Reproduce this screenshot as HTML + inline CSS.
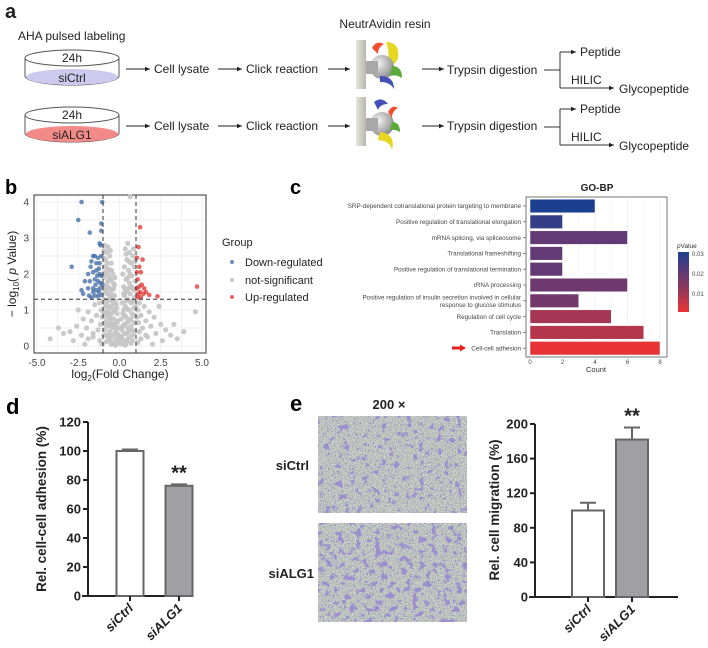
<!DOCTYPE html>
<html><head><meta charset="utf-8"><style>
html,body{margin:0;padding:0;background:#fff;}
svg{display:block;font-family:"Liberation Sans",Arial,sans-serif;}
</style></head><body>
<svg id="fig" width="708" height="648" viewBox="0 0 708 648" xmlns="http://www.w3.org/2000/svg">
<defs>
<marker id="arr" markerWidth="6" markerHeight="6" refX="5" refY="3" orient="auto"><path d="M0,0.8 L5,3 L0,5.2 z" fill="#222"/></marker>
<radialGradient id="sph" cx="0.35" cy="0.35" r="0.7"><stop offset="0" stop-color="#f4f4f4"/><stop offset="1" stop-color="#8a8a8a"/></radialGradient>
<linearGradient id="bar" x1="0" x2="1"><stop offset="0" stop-color="#e6e6dc"/><stop offset="1" stop-color="#b8b8ae"/></linearGradient>
<linearGradient id="cbar" x1="0" y1="0" x2="0" y2="1"><stop offset="0" stop-color="#1d3f8f"/><stop offset="0.3" stop-color="#5a3a78"/><stop offset="0.65" stop-color="#963858"/><stop offset="1" stop-color="#ee3333"/></linearGradient>
<filter id="blot1" x="0" y="0" width="100%" height="100%"><feTurbulence type="fractalNoise" baseFrequency="0.16" numOctaves="3" seed="4"/><feColorMatrix type="matrix" values="0 0 0 0 0.30  0 0 0 0 0.24  0 0 0 0 0.66  10 0 0 0 -6.0"/></filter>
<filter id="blot2" x="0" y="0" width="100%" height="100%"><feTurbulence type="fractalNoise" baseFrequency="0.16" numOctaves="3" seed="11"/><feColorMatrix type="matrix" values="0 0 0 0 0.30  0 0 0 0 0.24  0 0 0 0 0.66  10 0 0 0 -5.7"/></filter>
<filter id="specks" x="0" y="0" width="100%" height="100%"><feTurbulence type="fractalNoise" baseFrequency="0.6" numOctaves="1" seed="7"/><feColorMatrix type="matrix" values="0 0 0 0 0.28  0 0 0 0 0.22  0 0 0 0 0.6  12 0 0 0 -7.6"/></filter>
<filter id="grain" x="0" y="0" width="100%" height="100%"><feTurbulence type="fractalNoise" baseFrequency="0.9" numOctaves="1" seed="2"/><feColorMatrix type="matrix" values="0 0 0 0 0.40  0 0 0 0 0.44  0 0 0 0 0.42  0 0 0 -4 2.5"/></filter>
</defs>

<!-- ================= PANEL A ================= -->
<g font-size="12" fill="#222">
<text x="5" y="18" font-size="20" font-weight="bold">a</text>
<text x="18" y="40">AHA pulsed labeling</text>
<text x="385" y="28" text-anchor="middle">NeutrAvidin resin</text>
<g>
<path d="M25,58 L25,76 A47,9 0 0 0 119,76 L119,58" fill="#fff" stroke="#555"/>
<ellipse cx="72" cy="77" rx="46" ry="8" fill="#cccbee"/>
<ellipse cx="72" cy="58" rx="47" ry="8" fill="#fff" stroke="#555"/>
<text x="72" y="62" text-anchor="middle">24h</text>
<text x="72" y="82" text-anchor="middle">siCtrl</text>
</g>
<g>
<path d="M25,115 L25,133 A47,9 0 0 0 119,133 L119,115" fill="#fff" stroke="#555"/>
<ellipse cx="72" cy="134" rx="46" ry="8" fill="#f28a88"/>
<ellipse cx="72" cy="115" rx="47" ry="8" fill="#fff" stroke="#555"/>
<text x="72" y="119" text-anchor="middle">24h</text>
<text x="72" y="139" text-anchor="middle">siALG1</text>
</g>
<g stroke="#222" stroke-width="1" marker-end="url(#arr)">
<line x1="126" y1="69" x2="150" y2="69"/><line x1="218" y1="69" x2="242" y2="69"/><line x1="328" y1="69" x2="350" y2="69"/><line x1="422" y1="69" x2="444" y2="69"/>
<line x1="126" y1="126" x2="150" y2="126"/><line x1="218" y1="126" x2="242" y2="126"/><line x1="328" y1="126" x2="350" y2="126"/><line x1="422" y1="126" x2="444" y2="126"/>
</g>
<text x="154" y="73">Cell lysate</text>
<text x="246" y="73">Click reaction</text>
<text x="447" y="74">Trypsin digestion</text>
<text x="154" y="130">Cell lysate</text>
<text x="246" y="130">Click reaction</text>
<text x="447" y="130">Trypsin digestion</text>
<g>
<rect x="356" y="40" width="10" height="49" fill="url(#bar)"/>
<path d="M372,48 q4,-8 12,-4 q-6,3 -6,10 z" fill="#f05030"/>
<path d="M386,42 q14,0 12,16 q-4,10 -14,8 q8,-8 2,-24 z" fill="#e6d820"/>
<circle cx="382" cy="67" r="12" fill="url(#sph)"/>
<rect x="366" y="61" width="12" height="13" fill="#a8a8a8"/>
<path d="M392,66 q10,0 10,12 q-6,-4 -12,-2 z" fill="#5caa3a"/>
<path d="M380,76 q14,0 14,13 q-4,-7 -14,-7 z" fill="#4450b8"/>
</g>
<g>
<rect x="356" y="97" width="10" height="49" fill="url(#bar)"/>
<path d="M374,102 q8,-6 14,2 q-8,0 -10,6 z" fill="#4450b8"/>
<path d="M388,112 q4,-8 10,-4 q-6,3 -6,10 z" fill="#f05030"/>
<circle cx="382" cy="124" r="12" fill="url(#sph)"/>
<rect x="366" y="118" width="12" height="13" fill="#a8a8a8"/>
<path d="M392,122 q8,0 8,10 q-5,-3 -10,-2 z" fill="#5caa3a"/>
<path d="M380,132 q16,2 12,18 q-2,-9 -14,-10 z" fill="#e6d820"/>
</g>
<g stroke="#333" fill="none">
<path d="M544,70 L560,70"/><path d="M560,52 L560,88"/><path d="M560,52 L576,52" marker-end="url(#arr)"/><path d="M560,88 L614,88" marker-end="url(#arr)"/>
<path d="M544,127 L560,127"/><path d="M560,109 L560,145"/><path d="M560,109 L576,109" marker-end="url(#arr)"/><path d="M560,145 L614,145" marker-end="url(#arr)"/>
</g>
<text x="580" y="56">Peptide</text>
<text x="571" y="84">HILIC</text>
<text x="619" y="93">Glycopeptide</text>
<text x="580" y="113">Peptide</text>
<text x="571" y="141">HILIC</text>
<text x="619" y="150">Glycopeptide</text>
</g>

<!-- ================= PANEL B ================= -->
<g id="pb">
<text x="5" y="194" font-size="20" font-weight="bold">b</text>
<rect x="34" y="195" width="172" height="158" fill="#fff" stroke="#333"/>
<g id="pbGrid"></g><g id="pbPts"></g><g id="pbLines"></g><g id="pbAxes" font-size="10" fill="#444"></g>
<text x="120" y="378" text-anchor="middle" font-size="12" fill="#222">log<tspan font-size="8" dy="3">2</tspan><tspan dy="-3">(Fold Change)</tspan></text>
<text transform="translate(16,274) rotate(-90)" text-anchor="middle" font-size="12" fill="#222">− log<tspan font-size="8" dy="3">10</tspan><tspan dy="-3">( </tspan><tspan font-style="italic">p</tspan> Value)</text>
<g font-size="11" fill="#222">
<text x="222" y="246">Group</text>
<circle cx="232" cy="262" r="2" fill="#4a6fa5" opacity="0.8"/><text x="245" y="266">Down-regulated</text>
<circle cx="232" cy="280" r="2" fill="#c8c8c8"/><text x="245" y="284">not-significant</text>
<circle cx="232" cy="297" r="2" fill="#e03a3a" opacity="0.8"/><text x="245" y="301">Up-regulated</text>
</g>
</g>

<!-- ================= PANEL C ================= -->
<g id="pc">
<text x="290" y="194" font-size="20" font-weight="bold">c</text>
<text x="597" y="191" text-anchor="middle" font-size="10" font-weight="bold" fill="#222">GO-BP</text>
<rect x="526" y="197" width="141" height="160" fill="#fff" stroke="#555" stroke-width="0.8"/>
<g id="pcGrid"></g><g id="pcBars"></g><g id="pcLabels" font-size="6.3" fill="#444"></g><g id="pcAxis" font-size="6" fill="#444"></g>
<text x="596" y="372" text-anchor="middle" font-size="7.5" fill="#333">Count</text>
<path d="M452,348 L461,348" stroke="#e52020" stroke-width="3"/><path d="M460,344.5 L466,348 L460,351.5 z" fill="#e52020"/>
<g>
<text x="677" y="248" font-size="6.5" fill="#333"><tspan font-style="italic">p</tspan>Value</text>
<rect x="678" y="252" width="11" height="60" fill="url(#cbar)"/>
<text x="692" y="256" font-size="6" fill="#444">0.03</text>
<text x="692" y="276" font-size="6" fill="#444">0.02</text>
<text x="692" y="296" font-size="6" fill="#444">0.01</text>
</g>
</g>

<!-- ================= PANEL D ================= -->
<g id="pd">
<text x="6" y="414" font-size="22" font-weight="bold">d</text>
<text transform="translate(46,509) rotate(-90)" text-anchor="middle" font-size="13.5" font-weight="bold" fill="#222">Rel. cell-cell adhesion (%)</text>
<g id="pdChart"></g>
</g>

<!-- ================= PANEL E ================= -->
<g id="pe">
<text x="290" y="411" font-size="22" font-weight="bold">e</text>
<text x="389" y="409" text-anchor="middle" font-size="13" font-weight="bold" fill="#222">200 ×</text>
<g>
<rect x="318" y="416" width="149" height="97" fill="#d3d7d0"/>
<rect x="318" y="416" width="149" height="97" filter="url(#grain)"/>
<rect x="318" y="416" width="149" height="97" filter="url(#blot1)" opacity="0.85"/>
<rect x="318" y="416" width="149" height="97" filter="url(#specks)"/>
</g>
<g>
<rect x="318" y="523" width="149" height="99" fill="#d3d7d0"/>
<rect x="318" y="523" width="149" height="99" filter="url(#grain)"/>
<rect x="318" y="523" width="149" height="99" filter="url(#blot2)" opacity="0.85"/>
<rect x="318" y="523" width="149" height="99" filter="url(#specks)"/>
</g>
<text x="309" y="470" text-anchor="end" font-size="13" font-weight="bold" fill="#222">siCtrl</text>
<text x="314" y="578" text-anchor="end" font-size="13" font-weight="bold" fill="#222">siALG1</text>
<text transform="translate(499,510) rotate(-90)" text-anchor="middle" font-size="13.5" font-weight="bold" fill="#222">Rel. cell migration (%)</text>
<g id="peChart"></g>
</g>
</svg>

<script>
// ---------- Volcano data ----------
const downPts = [[-2.3,4.0],[-1.05,4.0],[-2.5,3.5],[-1.1,3.4],[-1.1,3.2],[-1.8,3.15],[-1.2,2.85],[-1.15,2.8],[-1.6,2.5],[-1.5,2.5],[-1.3,2.45],[-1.1,2.5],[-1.4,2.3],[-1.2,2.3],[-1.7,2.35],[-2.9,2.2],[-1.9,2.0],[-1.6,2.05],[-1.4,2.1],[-1.2,2.0],[-1.1,1.95],[-2.1,1.8],[-1.8,1.8],[-1.5,1.85],[-1.3,1.8],[-1.15,1.75],[-2.3,1.55],[-1.9,1.6],[-1.6,1.6],[-1.4,1.55],[-1.2,1.6],[-2.2,1.45],[-1.85,1.4],[-1.7,1.35],[-1.5,1.4],[-1.3,1.38],[-1.1,1.42],[-1.6,1.5],[-1.25,1.5],[-1.05,1.7],[-1.45,1.7],[-1.35,1.95],[-1.75,2.2],[-1.25,2.15]];
const upPts = [[1.25,3.3],[1.15,2.75],[1.05,2.45],[1.4,2.4],[1.2,2.2],[1.3,2.05],[1.05,2.05],[1.1,1.85],[1.35,1.7],[1.2,1.65],[1.5,1.6],[1.05,1.6],[1.25,1.5],[1.6,1.5],[1.15,1.45],[1.45,1.45],[1.8,1.42],[2.3,1.38],[1.1,1.35],[1.3,1.35],[4.7,1.65]];
const nsPts = [[-0.9,2.8],[-0.7,2.75],[-0.8,2.6],[-0.6,2.5],[-0.95,2.45],[-0.5,2.3],[-0.75,2.3],[-0.9,2.2],[-0.6,2.1],[-0.4,2.0],[-0.8,2.0],[-0.95,1.9],[-0.5,1.85],[-0.7,1.8],[-0.3,1.7],[-0.85,1.7],[-0.6,1.6],[-0.45,1.55],[-0.9,1.5],[-0.75,1.45],[-0.3,1.4],[-0.55,1.35],[-0.95,1.3],[-0.7,1.25],[-0.4,1.2],[-0.2,1.15],[-0.85,1.1],[-0.6,1.05],[-0.3,1.0],[-0.75,0.95],[-0.5,0.9],[-0.15,0.9],[-0.9,0.85],[-0.65,0.8],[-0.35,0.75],[-0.1,0.7],[-0.8,0.7],[-0.55,0.65],[-0.25,0.6],[-0.7,0.55],[-0.45,0.5],[-0.15,0.5],[-0.9,0.45],[-0.6,0.4],[-0.3,0.35],[-0.05,0.3],[-0.75,0.3],[-0.45,0.25],[-0.2,0.2],[-0.6,0.15],[-0.35,0.1],[-0.1,0.08],[-0.8,0.12],[-0.5,0.05],[-0.25,0.02],[-0.65,1.95],[-0.85,2.4],[-0.55,2.65],[-0.4,1.75],[-0.65,1.3],[-0.25,1.25],[-0.5,1.1],[-0.8,1.55],[-0.2,0.4],[-0.05,0.15],
[-0.95,2.65],[-0.9,2.05],[-0.98,1.6],[-0.92,1.2],[-0.97,0.95],[-0.88,0.6],[-0.95,0.3],[-0.7,2.15],[-0.62,1.85],[-0.78,1.15],[-0.68,0.9],[-0.52,0.78],[-0.42,1.4],[-0.35,1.6],[-0.48,2.1],[-0.28,1.9],[-0.38,0.95],[-0.18,1.05],[-0.12,0.3],[-0.3,0.5],[-0.55,0.3],[-0.7,0.2],[-0.85,0.3],[-0.4,0.6],[-0.15,0.65],[-0.6,0.6],[-0.82,0.95],[-0.72,1.65],[-0.58,1.45],[-0.45,1.3],
[0.5,2.85],[0.35,2.7],[0.6,2.6],[0.8,2.5],[0.45,2.4],[0.7,2.3],[0.3,2.2],[0.9,2.2],[0.55,2.1],[0.2,2.0],[0.75,1.95],[0.4,1.85],[0.95,1.8],[0.6,1.75],[0.25,1.65],[0.8,1.6],[0.45,1.5],[0.65,1.45],[0.3,1.4],[0.9,1.35],[0.5,1.3],[0.15,1.2],[0.7,1.2],[0.35,1.1],[0.85,1.05],[0.55,1.0],[0.2,0.9],[0.75,0.9],[0.4,0.8],[0.1,0.75],[0.6,0.7],[0.9,0.65],[0.3,0.6],[0.5,0.5],[0.15,0.45],[0.75,0.45],[0.4,0.35],[0.05,0.25],[0.6,0.25],[0.25,0.15],[0.45,0.1],[0.1,0.05],[0.7,0.08],[0.35,0.02],[0.65,2.0],[0.85,2.7],[0.4,2.55],[0.25,1.0],[0.7,0.55],[0.55,1.6],[0.65,4.15],
[0.95,2.35],[0.92,1.55],[0.97,1.1],[0.88,0.85],[0.95,0.4],[0.8,0.3],[0.62,1.25],[0.72,1.65],[0.5,1.9],[0.58,2.35],[0.38,1.25],[0.45,0.65],[0.32,0.85],[0.2,0.55],[0.15,0.25],[0.28,0.35],[0.55,0.4],[0.68,0.75],[0.82,1.25],[0.42,1.05],[0.25,1.45],[0.35,1.55],[0.5,0.2],[0.8,0.15],[0.05,0.5],
[1.2,1.2],[1.5,1.1],[1.1,1.0],[1.8,0.95],[1.3,0.85],[2.1,0.8],[1.6,0.7],[1.15,0.65],[2.5,0.6],[1.9,0.55],[1.4,0.5],[2.8,0.45],[1.2,0.4],[2.2,0.35],[3.1,0.3],[1.7,0.25],[1.3,0.2],[2.6,0.15],[3.5,0.2],[1.1,0.1],[2.0,0.05],[4.6,0.95],[3.9,0.4],[3.3,0.6],[2.4,1.1],[1.05,0.8],[1.6,0.3],
[-1.2,1.2],[-1.5,1.15],[-1.1,1.0],[-1.9,0.95],[-1.4,0.85],[-2.2,0.75],[-1.7,0.7],[-1.15,0.6],[-2.6,0.55],[-2.0,0.5],[-1.3,0.45],[-3.0,0.4],[-1.6,0.35],[-2.3,0.3],[-3.4,0.35],[-1.9,0.2],[-1.2,0.15],[-2.8,0.15],[-4.2,0.2],[-1.05,0.05],[-2.1,0.05],[-3.7,0.5],[-2.5,1.0],[-1.05,0.8],[-1.6,0.25]];
const volXTicks = [-5.0,-2.5,0.0,2.5,5.0];
const volYTicks = [0,1,2,3,4];
const fcCut = 1, pCut = 1.3;

// ---------- GO data ----------
const goTerms = ["SRP-dependent cotranslational protein targeting to membrane","Positive regulation of translational elongation","mRNA splicing, via spliceosome","Translational frameshifting","Positive regulation of translational termination","rRNA processing","Positive regulation of insulin secretion involved in cellular|response to glucose stimulus","Regulation of cell cycle","Translation","Cell-cell adhesion"];
const goCounts = [4,2,6,2,2,6,3,5,7,8];
const goPvals = [0.030,0.027,0.021,0.021,0.021,0.019,0.018,0.010,0.008,0.001];
const goXTicks = [0,2,4,6,8];

// ---------- Bar data ----------
const groups = ["siCtrl","siALG1"];
const adhesionVals = [100,76];
const adhesionErr = [1,1];
const adhesionTicks = [0,20,40,60,80,100,120];
const migrationVals = [100,182];
const migrationErr = [9,14];
const migrationTicks = [0,40,80,120,160,200];

const NS="http://www.w3.org/2000/svg";
function el(tag,parent){const e=document.createElementNS(NS,tag);parent.appendChild(e);return e;}
function set(e,o){for(const k in o)e.setAttribute(k,o[k]);return e;}

const vx = v => 119.5 + v*16.5;
const vy = v => 346 - v*36;
(function(){
 const g=document.getElementById('pbGrid');
 for(let v=-5; v<=5; v+=1.25){const l=el('line',g);set(l,{x1:vx(v),x2:vx(v),y1:196,y2:352,stroke:'#ececec','stroke-width':0.7});}
 for(let v=0; v<=4.1; v+=0.5){const l=el('line',g);set(l,{x1:35,x2:205,y1:vy(v),y2:vy(v),stroke:'#ececec','stroke-width':0.7});}
 const p=document.getElementById('pbPts');
 nsPts.forEach(d=>{const c=el('circle',p);set(c,{cx:vx(d[0]),cy:vy(d[1]),r:2.6,fill:'#c4c4c4',opacity:0.9});});
 downPts.forEach(d=>{const c=el('circle',p);set(c,{cx:vx(d[0]),cy:vy(d[1]),r:2.3,fill:'#3e68a6',opacity:0.75});});
 upPts.forEach(d=>{const c=el('circle',p);set(c,{cx:vx(d[0]),cy:vy(d[1]),r:2.3,fill:'#e03030',opacity:0.75});});
 const L=document.getElementById('pbLines');
 [-fcCut,fcCut].forEach(v=>{const l=el('line',L);set(l,{x1:vx(v),x2:vx(v),y1:195,y2:353,stroke:'#333','stroke-dasharray':'4,3','stroke-width':1});});
 const h=el('line',L);set(h,{x1:34,x2:206,y1:vy(pCut),y2:vy(pCut),stroke:'#333','stroke-dasharray':'4,3','stroke-width':1});
 const A=document.getElementById('pbAxes');
 volXTicks.forEach(v=>{const t=el('text',A);set(t,{x:vx(v),y:366,'text-anchor':'middle'});t.textContent=v.toFixed(1);});
 volYTicks.forEach(v=>{const t=el('text',A);set(t,{x:29,y:vy(v)+3.5,'text-anchor':'end'});t.textContent=v;});
})();

function pcolor(p){
 const stops=[[0.0,[238,51,51]],[0.012,[150,56,90]],[0.022,[92,58,120]],[0.03,[29,63,143]]];
 p=Math.max(0,Math.min(0.03,p));
 for(let i=0;i<stops.length-1;i++){
  const [p0,c0]=stops[i],[p1,c1]=stops[i+1];
  if(p<=p1){const u=(p-p0)/(p1-p0);return 'rgb('+c0.map((c,j)=>Math.round(c+(c1[j]-c)*u)).join(',')+')';}
 }
 return 'rgb(29,63,143)';
}
const gx = v => 530 + v*16.25;
const gy = i => 206 + i*15.8;
(function(){
 const G=document.getElementById('pcGrid');
 for(let v=0; v<=8.5; v+=1){const l=el('line',G);set(l,{x1:gx(v),x2:gx(v),y1:198,y2:356,stroke:v%2?'#f3f3f3':'#e6e6e6','stroke-width':0.6});}
 const B=document.getElementById('pcBars'), T=document.getElementById('pcLabels');
 goTerms.forEach((term,i)=>{
  const r=el('rect',B);set(r,{x:gx(0),y:gy(i)-6.8,width:gx(goCounts[i])-gx(0),height:13.6,fill:pcolor(goPvals[i]),stroke:'#fff','stroke-width':0.5});
  
  const tk=el('line',T);set(tk,{x1:523,x2:526,y1:gy(i),y2:gy(i),stroke:'#444','stroke-width':0.6});
  const parts=term.split('|');
  parts.forEach((s,j)=>{const t=el('text',T);set(t,{x:521,y:gy(i)+2.2+(j-(parts.length-1)/2)*7.5,'text-anchor':'end'});t.textContent=s;});
 });
 const A=document.getElementById('pcAxis');
 goXTicks.forEach(v=>{const t=el('text',A);set(t,{x:gx(v),y:364,'text-anchor':'middle'});t.textContent=v;});
})();

function barChart(gid,opts){
 const g=document.getElementById(gid);
 const y=v=>opts.y0 - v*opts.k;
 const ax=el('line',g);set(ax,{x1:opts.ax,x2:opts.ax,y1:y(opts.ticks[opts.ticks.length-1]),y2:opts.y0,stroke:'#222','stroke-width':2});
 
 const bl=el('line',g);set(bl,{x1:opts.ax-6,x2:opts.xend,y1:opts.y0,y2:opts.y0,stroke:'#222','stroke-width':2});
 
 opts.ticks.forEach(v=>{
  const l=el('line',g);set(l,{x1:opts.ax-5,x2:opts.ax,y1:y(v),y2:y(v),stroke:'#222','stroke-width':2});
  const t=el('text',g);set(t,{x:opts.ax-7,y:y(v)+4.5,'text-anchor':'end','font-size':13,'font-weight':'bold',fill:'#222'});t.textContent=v;
  
 });
 groups.forEach((gr,i)=>{
  const cx=opts.cx[i], v=opts.vals[i], e=opts.err[i], w=opts.w;
  const eb=el('path',g);set(eb,{d:`M${cx},${y(v)} L${cx},${y(v+e)} M${cx-8},${y(v+e)} L${cx+8},${y(v+e)}`,stroke:'#666','stroke-width':2,fill:'none'});
  
  const r=el('rect',g);set(r,{x:cx-w/2,y:y(v),width:w,height:opts.y0-y(v),fill:i?'#a0a0a4':'#fff',stroke:'#666','stroke-width':2});
  
  const tk=el('line',g);set(tk,{x1:cx,x2:cx,y1:opts.y0,y2:opts.y0+5,stroke:'#222','stroke-width':2});
  const t=el('text',g);set(t,{transform:`translate(${cx+4},${opts.y0+13}) rotate(-45)`,'text-anchor':'end','font-size':13,'font-weight':'bold','font-style':'italic',fill:'#222'});t.textContent=gr;
  
 });
 const s=el('text',g);set(s,{x:opts.cx[1],y:y(opts.vals[1]+opts.err[1])-5,'text-anchor':'middle','font-size':20,'font-weight':'bold',fill:'#222'});s.textContent='**';
 
}
barChart('pdChart',{name:'adhesion',y0:596,k:1.45,ax:88,xend:186,cx:[130,179],w:27,vals:adhesionVals,err:adhesionErr,ticks:adhesionTicks});
barChart('peChart',{name:'migration',y0:597,k:0.865,ax:535,xend:678,cx:[588,632],w:32,vals:migrationVals,err:migrationErr,ticks:migrationTicks});
</script>
</body></html>
